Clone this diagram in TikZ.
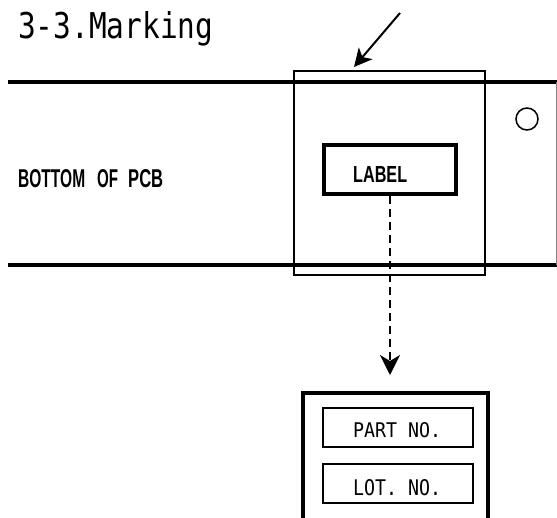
\documentclass[tikz,border=0pt]{standalone}
\usepackage{fontspec}
\usetikzlibrary{arrows.meta}
\newfontfamily\monofnt{DejaVu Sans Mono}
\newfontfamily\boldfnt{Liberation Sans}
\newcommand{\bw}[2]{\resizebox{#1}{18pt}{\boldfnt\bfseries #2}}
\tikzset{
  board/.style={line width=4pt},
  thinbox/.style={draw, line width=1.5pt, inner sep=0pt},
  thickbox/.style={draw, line width=4pt, inner sep=0pt},
  fieldbox/.style={draw, line width=2pt, inner sep=0pt, minimum width=150pt, minimum height=39pt},
  txt/.style={inner sep=0pt, anchor=base west},
  pointer/.style={line width=2pt, -{Stealth[length=18pt,width=18pt,inset=5pt]}},
  dashline/.style={line width=2pt, dash pattern=on 8pt off 5pt, -{Stealth[length=20pt,width=20pt,inset=6pt]}}
}
\begin{document}
\begin{tikzpicture}[x=1pt,y=-1pt]
\useasboundingbox (0,0) rectangle (557,517);
\fill[white] (0,0) rectangle (557,517);
% title
\node[txt] (title) at (18,38) {\resizebox{195pt}{27pt}{\monofnt 3-3.Marking}};
% board
\draw[board] (8,82) -- (557,82);
\draw[board] (8,265) -- (557,265);
\draw[gray, line width=1pt] (556,82) -- (556,265);
\node[txt] (pcb) at (18,187) {\bw{67pt}{BOTTOM}\hspace{12pt}\bw{21pt}{OF}\hspace{10pt}\bw{35pt}{PCB}};
% sheet
\node[thinbox, minimum width=191pt, minimum height=204pt] (sheet) at (389.5,173) {};
\node[draw, circle, line width=1.5pt, minimum size=22pt, inner sep=0pt] (hole) at (527,119) {};
% label box
\node[thickbox, minimum width=132pt, minimum height=49pt] (labelbox) at (390,169.5) {};
\node[txt] (labeltext) at (353,182) {\resizebox{54pt}{16pt}{\boldfnt\bfseries LABEL}};
% pointer arrow
\coordinate (ptail) at (400,13);
\coordinate (ptip) at (354,67);
\draw[pointer] (ptail) -- (ptip);
% dashed connector
\coordinate (dtip) at (390,375);
\draw[dashline] (labelbox.south) -- (dtip);
% detail box
\draw[line width=4pt] (303,519) -- (303,392.5) -- (488,392.5) -- (488,519);
\node[fieldbox] (partbox) at (398,427.5) {};
\node[fieldbox] (lotbox) at (398,483.5) {};
\node[txt] (parttext) at (353,437) {\resizebox{88pt}{15pt}{\monofnt PART NO.}};
\node[txt] (lottext) at (353,495) {\resizebox{88pt}{16pt}{\monofnt LOT. NO.}};
\end{tikzpicture}
\end{document}
